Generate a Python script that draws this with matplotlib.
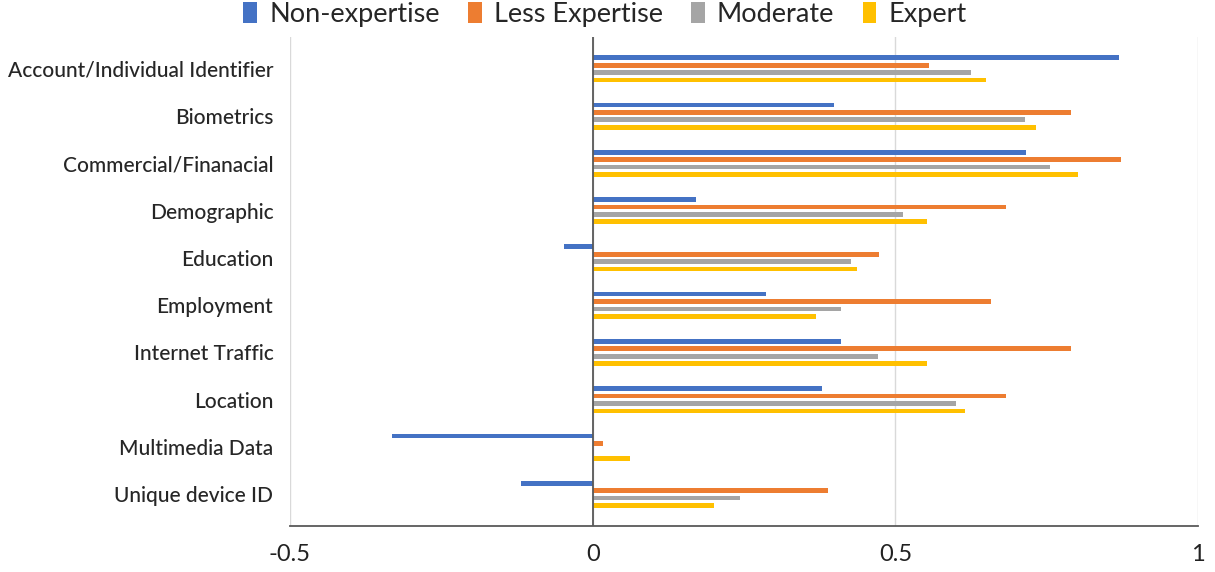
import numpy as np
import matplotlib.pyplot as plt

# ---- Data ----
categories = [
    "Account/Individual Identifier", "Biometrics", "Commercial/Finanacial",
    "Demographic", "Education", "Employment", "Internet Traffic",
    "Location", "Multimedia Data", "Unique device ID",
]
series_names = ["Non-expertise", "Less Expertise", "Moderate", "Expert"]

non_expertise  = [0.870, 0.398, 0.716, 0.170, -0.048, 0.287, 0.410, 0.379, -0.331, -0.119]
less_expertise = [0.556, 0.790, 0.873, 0.683, 0.473, 0.658, 0.790, 0.683, 0.017, 0.388]
moderate       = [0.625, 0.715, 0.756, 0.512, 0.427, 0.410, 0.471, 0.600, 0.000, 0.243]
expert         = [0.649, 0.733, 0.801, 0.553, 0.437, 0.369, 0.553, 0.615, 0.061, 0.200]

x_ticks = [-0.5, 0, 0.5, 1]
x_tick_labels = ["-0.5", "0", "0.5", "1"]

colors = ["#4472C4", "#ED7D31", "#A5A5A5", "#FFC000"]

plt.rcParams['font.family'] = ['Lato', 'DejaVu Sans']

fig = plt.figure(figsize=(12.15, 5.72), dpi=100)
ax = fig.add_axes([290 / 1215, 1 - 526 / 572, (1198 - 290) / 1215, (526 - 37) / 572])

y = np.arange(len(categories))
pitch = 0.157
bar_h = 0.1
all_series = [non_expertise, less_expertise, moderate, expert]
for k, (vals, name, c) in enumerate(zip(all_series, series_names, colors)):
    ax.barh(y + (k - 1.5) * pitch, vals, height=bar_h, color=c, label=name, zorder=3)

ax.set_xlim(-0.5, 1)
ax.set_ylim(9.671, -0.674)

ax.set_xticks(x_ticks)
ax.set_xticklabels(x_tick_labels, fontsize=17, color="#222222")
ax.set_yticks(y)
ax.set_yticklabels(categories, fontsize=15, color="#262626", fontweight='medium')
ax.tick_params(axis='both', length=0)
ax.tick_params(axis='x', pad=13)
ax.tick_params(axis='y', pad=12)

ax.grid(axis='x', color="#D9D9D9", linewidth=1, zorder=0)
ax.axvline(0, color="#595959", linewidth=1.3, zorder=4)
for s in ['top', 'right', 'left']:
    ax.spines[s].set_visible(False)
ax.spines['bottom'].set_color("#595959")
ax.spines['bottom'].set_linewidth(1.3)

leg = ax.legend(loc='lower center', bbox_to_anchor=(0.347, 0.995), ncol=4, frameon=False,
                fontsize=19.5, handlelength=0.5, handleheight=0.8, handletextpad=0.45,
                columnspacing=1.05, borderaxespad=0.05)
for t in leg.get_texts():
    t.set_color("#262626")

plt.savefig('out.png', dpi=100)
